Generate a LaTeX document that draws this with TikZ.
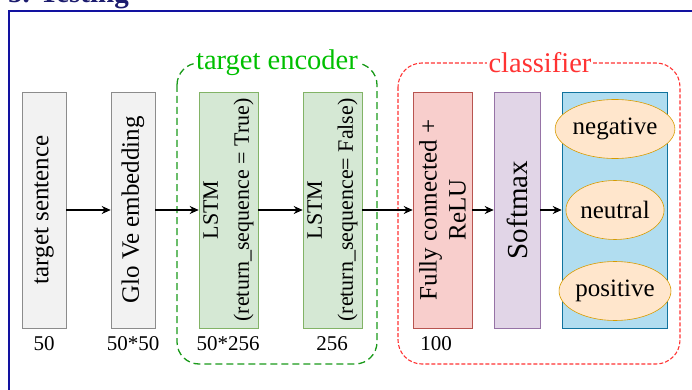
\documentclass[tikz,border=0pt]{standalone}
\usepackage{fontspec}
\setmainfont{Liberation Serif}
\usetikzlibrary{shapes.geometric,arrows.meta}
\definecolor{frameblue}{HTML}{1212A0}
\definecolor{headnavy}{HTML}{1C1C6E}
\definecolor{greyfill}{HTML}{F2F2F2}
\definecolor{greyline}{HTML}{8C8C8C}
\definecolor{lstmfill}{HTML}{D5E8D4}
\definecolor{lstmline}{HTML}{82B366}
\definecolor{fcfill}{HTML}{F8CECC}
\definecolor{fcline}{HTML}{B85450}
\definecolor{smfill}{HTML}{E1D5E7}
\definecolor{smline}{HTML}{9673A6}
\definecolor{outfill}{HTML}{B1DDF0}
\definecolor{outline}{HTML}{10739E}
\definecolor{ellfill}{HTML}{FFE6CC}
\definecolor{ellline}{HTML}{D79B00}
\definecolor{encgreen}{HTML}{1A9A1A}
\definecolor{enctext}{HTML}{00C000}
\definecolor{clsred}{HTML}{FF3333}
\tikzset{
  layer/.style={draw, rotate=90, minimum width=236pt, inner sep=0pt, align=center,
    line width=0.6pt, font=\fontsize{25}{29}\selectfont},
  dimlabel/.style={font=\fontsize{21}{24}\selectfont, inner sep=0pt},
  flow/.style={-{Stealth[length=9pt,width=8pt]}, line width=1.3pt},
  classell/.style={draw=ellline, fill=ellfill, ellipse, minimum width=97pt, minimum height=59pt,
    inner sep=0pt, line width=0.6pt, font=\fontsize{25}{29}\selectfont},
  grouptitle/.style={fill=white, inner sep=2pt, font=\fontsize{28.5}{32}\selectfont},
}
\begin{document}
\begin{tikzpicture}[x=1pt,y=-1pt]
\useasboundingbox (0,0) rectangle (692,390);
\begin{scope}
\clip (0,0) rectangle (692,390);
% section heading, partly above the page edge
\node[anchor=base west, inner sep=0pt, text=headnavy, font=\bfseries\fontsize{29}{32}\selectfont]
  (heading) at (8,3) {5. Testing};
% section frame
\draw[frameblue, line width=2pt] (9,400) -- (9,11) -- (700,11);
\end{scope}

% layers
\node[layer, draw=greyline, fill=greyfill, minimum height=44pt] (ts) at (44,210) {target sentence};
\node[layer, draw=greyline, fill=greyfill, minimum height=44pt] (glove) at (133,210) {Glo Ve embedding};
\node[layer, draw=lstmline, fill=lstmfill, minimum height=59pt, font=\fontsize{22}{31}\selectfont]
  (lstma) at (228.5,210) {LSTM\\(return\_sequence = True)};
\node[layer, draw=lstmline, fill=lstmfill, minimum height=59pt, font=\fontsize{22}{31}\selectfont]
  (lstmb) at (332.5,210) {LSTM\\(return\_sequence= False)};
\node[layer, draw=fcline, fill=fcfill, minimum height=59pt, font=\fontsize{25}{29}\selectfont]
  (fc) at (442.5,210) {Fully connected +\\ReLU};
\node[layer, draw=smline, fill=smfill, minimum height=46pt, font=\fontsize{29}{32}\selectfont]
  (sm) at (517,210) {Softmax};
\node[layer, draw=outline, fill=outfill, minimum height=105pt] (out) at (614.5,210) {};

% output classes
\node[classell] (neg) at (615,129) {negative};
\node[classell] (neu) at (615,210) {neutral};
\node[classell] (pos) at (615,291) {positive};

% sizes
\node[dimlabel] (d1) at (44,344) {50};
\node[dimlabel] (d2) at (133,344) {50*50};
\node[dimlabel] (d3) at (228,344) {50*256};
\node[dimlabel] (d4) at (332,344) {256};
\node[dimlabel] (d5) at (436,344) {100};

% groups
\draw[encgreen, line width=1.3pt, dash pattern=on 7pt off 4pt, rounded corners=22pt]
  (177,63) rectangle (377,364);
\node[grouptitle, text=enctext] (enc) at (277,63) {target encoder};
\draw[clsred, line width=1.1pt, dash pattern=on 4pt off 2pt, rounded corners=24pt]
  (398,63) rectangle (680,364);
\node[grouptitle, text=clsred] (cls) at (540,63) {classifier};

% data flow
\draw[flow] (ts) -- (glove);
\draw[flow] (glove) -- (lstma);
\draw[flow] (lstma) -- (lstmb);
\draw[flow] (lstmb) -- (fc);
\draw[flow] (fc) -- (sm);
\draw[flow] (sm) -- (out);
\end{tikzpicture}
\end{document}
